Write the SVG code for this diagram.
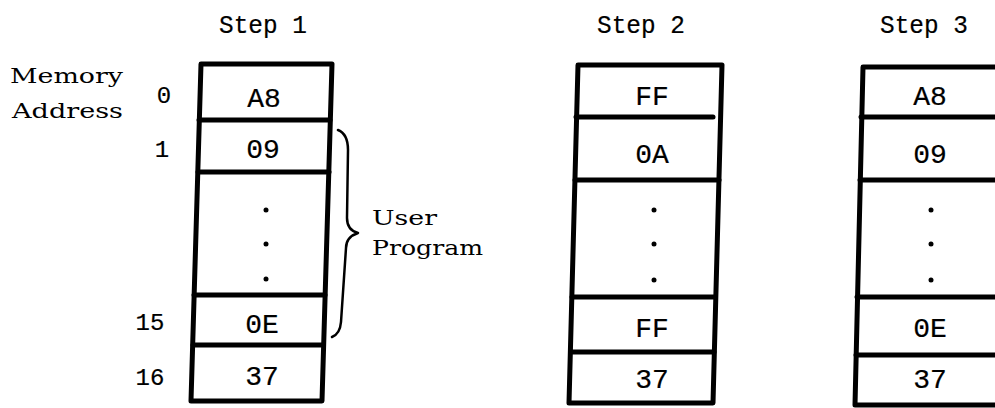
<svg xmlns="http://www.w3.org/2000/svg" width="995" height="408" viewBox="0 0 995 408">
<style>
.box{fill:none;stroke:#000;stroke-width:5;stroke-linejoin:round}
.div{stroke:#000;stroke-width:5;stroke-linecap:round}
.mono{font-family:"Liberation Mono","Courier New",monospace;fill:#000;stroke:#000;stroke-width:0.2}
.step{font-size:26px;text-anchor:middle}
.val{font-size:28px;text-anchor:middle}
.addr{font-size:24px;text-anchor:middle}
.lbl{font-family:"DejaVu Serif","Liberation Serif",serif;font-size:21px;fill:#000}
.dot{fill:#000}
.brace{fill:none;stroke:#000;stroke-width:2.5;stroke-linecap:round;stroke-linejoin:round}
</style>
<rect width="995" height="408" fill="#fff"/>
<g id="labels">
<text class="lbl" x="10" y="83" textLength="113" lengthAdjust="spacingAndGlyphs">Memory</text>
<text class="lbl" x="12" y="118" textLength="111" lengthAdjust="spacingAndGlyphs">Address</text>
<text class="mono addr" x="164" y="103">0</text>
<text class="mono addr" x="162" y="157">1</text>
<text class="mono addr" x="150" y="330">15</text>
<text class="mono addr" x="150" y="385">16</text>
</g>
<g id="step1">
<text class="mono step" x="263" y="33" textLength="88" lengthAdjust="spacingAndGlyphs">Step 1</text>
<polygon class="box" points="201,64 332,64 322,401 191,401"/>
<line class="div" x1="199" y1="120" x2="330" y2="120"/>
<line class="div" x1="198" y1="172" x2="329" y2="172"/>
<line class="div" x1="194" y1="295" x2="325" y2="295"/>
<line class="div" x1="193" y1="345" x2="323" y2="345"/>
<text class="mono val" x="264" y="107">A8</text>
<text class="mono val" x="263" y="158">09</text>
<circle class="dot" cx="266" cy="210" r="2.5"/>
<circle class="dot" cx="266" cy="244" r="2.5"/>
<circle class="dot" cx="266" cy="279" r="2.5"/>
<text class="mono val" x="262" y="333">0E</text>
<text class="mono val" x="262" y="385">37</text>
</g>
<g id="user-program">
<path class="brace" d="M338,130 Q348,134 348,150 L347,218 Q347,230 358,233 Q346,237 346,248 L341,322 Q340,334 332,337"/>
<text class="lbl" x="372" y="225" textLength="65" lengthAdjust="spacingAndGlyphs">User</text>
<text class="lbl" x="372" y="255" textLength="111" lengthAdjust="spacingAndGlyphs">Program</text>
</g>
<g id="step2">
<text class="mono step" x="641" y="33" textLength="88" lengthAdjust="spacingAndGlyphs">Step 2</text>
<polygon class="box" points="578,65 722,65 713,403 569,403"/>
<line class="div" x1="576" y1="117" x2="713" y2="117"/>
<line class="div" x1="575" y1="180" x2="719" y2="180"/>
<line class="div" x1="572" y1="297" x2="715" y2="297"/>
<line class="div" x1="571" y1="352" x2="714" y2="352"/>
<text class="mono val" x="652" y="105">FF</text>
<text class="mono val" x="652" y="163">0A</text>
<circle class="dot" cx="654" cy="210" r="2.5"/>
<circle class="dot" cx="654" cy="244" r="2.5"/>
<circle class="dot" cx="654" cy="280" r="2.5"/>
<text class="mono val" x="652" y="337">FF</text>
<text class="mono val" x="652" y="388">37</text>
</g>
<g id="step3">
<text class="mono step" x="924" y="33" textLength="88" lengthAdjust="spacingAndGlyphs">Step 3</text>
<polygon class="box" points="863,67 1005,67 1005,405 855,405"/>
<line class="div" x1="861" y1="117" x2="1000" y2="117"/>
<line class="div" x1="860" y1="180" x2="1000" y2="180"/>
<line class="div" x1="857" y1="297" x2="1000" y2="297"/>
<line class="div" x1="856" y1="355" x2="1000" y2="355"/>
<text class="mono val" x="930" y="105">A8</text>
<text class="mono val" x="930" y="163">09</text>
<circle class="dot" cx="931" cy="210" r="2.5"/>
<circle class="dot" cx="931" cy="244" r="2.5"/>
<circle class="dot" cx="931" cy="280" r="2.5"/>
<text class="mono val" x="930" y="337">0E</text>
<text class="mono val" x="930" y="388">37</text>
</g>
<g id="connectors"></g>
</svg>
